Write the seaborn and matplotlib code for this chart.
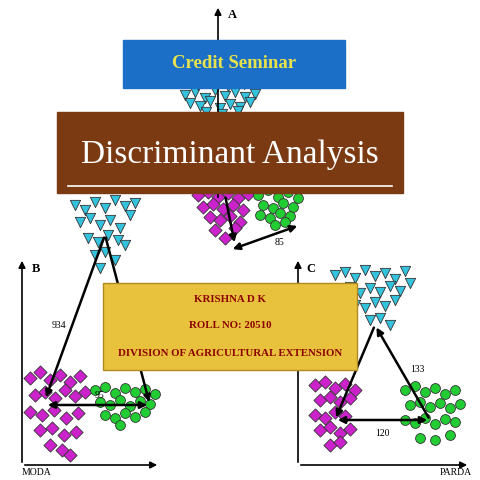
import matplotlib
matplotlib.use("Agg")
import matplotlib.pyplot as plt
import seaborn as sns
import pandas as pd
from matplotlib.patches import Rectangle, FancyArrowPatch

# cluster points (pixel coords of the picture)
a_tri_x = [185,195,205,215,225,235,245,255,190,200,210,220,230,240,250,198,212,228,244,206,222,238]
a_tri_y = [95,92,98,90,96,92,97,94,103,106,101,108,104,107,102,85,83,86,84,112,114,111]
a_sq_x = [198,208,218,228,238,248,203,213,223,233,243,210,220,230,240,215,235,225]
a_sq_y = [195,192,197,193,198,194,207,204,209,205,210,217,220,216,222,230,228,238]
a_ci_x = [258,268,278,288,298,263,273,283,293,260,270,280,290,275,285]
a_ci_y = [195,190,197,192,198,205,208,203,207,215,218,213,216,225,222]
b_tri_x = [75,85,95,105,115,125,135,80,90,100,110,120,130,88,98,108,118,95,105,115,100,125]
b_tri_y = [205,210,202,208,200,206,203,222,218,225,220,228,215,238,242,235,240,255,252,260,268,245]
b_sq_x = [30,40,50,60,70,80,35,45,55,65,75,85,30,42,54,66,78,40,52,64,76,50,62,70]
b_sq_y = [378,372,380,375,382,376,395,392,398,390,396,392,412,415,410,418,413,430,428,435,432,445,450,455]
b_ci_x = [95,105,115,125,135,145,155,100,110,120,130,140,150,105,115,125,135,145,120]
b_ci_y = [390,387,393,388,392,389,394,402,405,400,406,401,404,415,418,413,417,412,425]
c_tri_x = [335,345,355,365,375,385,395,405,340,350,360,370,380,390,400,355,365,375,385,395,370,380,390,410]
c_tri_y = [275,272,278,270,276,273,279,271,290,287,293,288,292,286,291,305,308,302,306,300,320,318,325,283]
c_sq_x = [315,325,335,345,355,320,330,340,350,315,325,335,345,320,330,340,350,330,340]
c_sq_y = [385,382,388,384,390,400,397,402,398,415,418,412,416,430,427,433,429,445,442]
c_ci_x = [405,415,425,435,445,455,410,420,430,440,450,460,405,415,425,435,445,455,420,435,450]
c_ci_y = [390,386,392,388,394,390,405,402,407,403,408,404,420,423,418,424,419,422,438,440,435]

fig = plt.figure(figsize=(4.8, 4.8), dpi=100)
ax = fig.add_axes([0, 0, 1, 1])
ax.set_xlim(0, 480); ax.set_ylim(480, 0); ax.axis("off")
fig.patch.set_facecolor("white")
SERIF = "Liberation Serif"

def pts(x, y, marker, color, s):
    sns.scatterplot(data=pd.DataFrame({"x": x, "y": y}), x="x", y="y", marker=marker,
                    color=color, s=s, edgecolor="#333333", linewidth=0.6, ax=ax, legend=False, zorder=3)

cy, mg, gr = "#33c3dd", "#cc22cc", "#22cc33"
for tx, ty, sx, sy, cx_, cyy in [(a_tri_x,a_tri_y,a_sq_x,a_sq_y,a_ci_x,a_ci_y),
                                 (b_tri_x,b_tri_y,b_sq_x,b_sq_y,b_ci_x,b_ci_y),
                                 (c_tri_x,c_tri_y,c_sq_x,c_sq_y,c_ci_x,c_ci_y)]:
    pts(tx, ty, "v", cy, 55)
    pts(sx, sy, "D", mg, 45)
    pts(cx_, cyy, "o", gr, 50)

def arrow(p, q, both=False, lw=1.8):
    ax.add_patch(FancyArrowPatch(p, q, arrowstyle="<|-|>" if both else "-|>", mutation_scale=10,
                                 color="black", lw=lw, zorder=4))

# axes
arrow((218, 200), (218, 5), lw=1.2); ax.text(228, 18, "A", fontsize=9, weight="bold", family=SERIF)
arrow((22, 465), (22, 258), lw=1.2); arrow((22, 465), (160, 465), lw=1.2)
ax.text(32, 272, "B", fontsize=9, weight="bold", family=SERIF)
ax.text(22, 475, "MODA", fontsize=7, family=SERIF)
arrow((298, 465), (298, 258), lw=1.2); arrow((298, 465), (470, 465), lw=1.2)
ax.text(306, 272, "C", fontsize=9, weight="bold", family=SERIF)
ax.text(440, 475, "PARDA", fontsize=7, family=SERIF)
# triangles
arrow((225, 195), (235, 245)); arrow((230, 250), (300, 225), both=True)
ax.text(275, 245, "85", fontsize=7, family=SERIF)
arrow((105, 235), (45, 400)); arrow((105, 235), (150, 405)); arrow((45, 405), (150, 405), both=True)
ax.text(52, 328, "934", fontsize=7, family=SERIF); ax.text(95, 398, "95", fontsize=7, family=SERIF)
arrow((375, 325), (335, 420)); arrow((335, 420), (430, 420), both=True); arrow((430, 420), (375, 325))
ax.text(410, 372, "133", fontsize=7, family=SERIF); ax.text(375, 436, "120", fontsize=7, family=SERIF)

# boxes
ax.add_patch(Rectangle((123, 40), 222, 48, color="#1b6fc6", zorder=6))
ax.text(234, 64, "Credit Seminar", ha="center", va="center", color="#e8e34a", fontsize=13.5,
        weight="bold", family=SERIF, zorder=7)
ax.add_patch(Rectangle((57, 112), 346, 81, color="#7b3a12", zorder=6))
ax.text(230, 155, "Discriminant Analysis", ha="center", va="center", color="white", fontsize=24,
        family=SERIF, zorder=7)
ax.plot([68, 392], [186, 186], color="white", lw=1.2, zorder=7)
ax.add_patch(Rectangle((103, 283), 254, 87, facecolor="#e8c23c", edgecolor="#b08a20", lw=1, zorder=6))
for yy, t in [(300, "KRISHNA D K"), (326, "ROLL NO: 20510"), (353, "DIVISION OF AGRICULTURAL EXTENSION")]:
    ax.text(230, yy, t, ha="center", va="center", color="#8b0000", fontsize=7.8, weight="bold",
            family=SERIF, zorder=7)

fig.savefig("out.png", dpi=100)
